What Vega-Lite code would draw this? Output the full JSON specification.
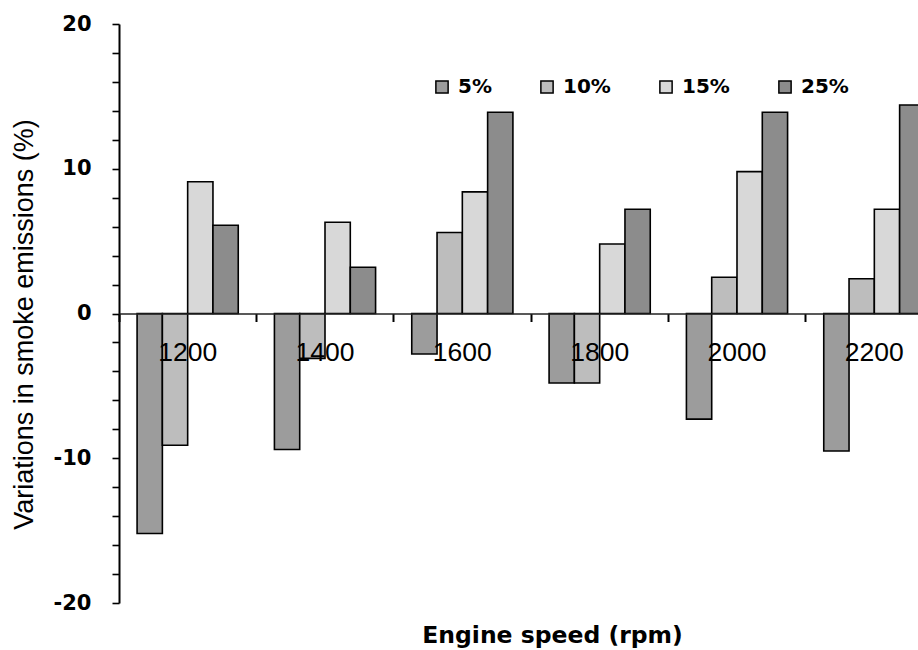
{
  "$schema": "https://vega.github.io/schema/vega-lite/v6.json",
  "autosize": "none",
  "width": 799,
  "height": 579,
  "padding": {"left": 119, "top": 24, "right": 0, "bottom": 47},
  "background": "white",
  "config": {
    "view": {"stroke": null},
    "axis": {"grid": false}
  },
  "data": {
    "values": [
      {"speed": "1200", "load": "5%", "value": -15.2},
      {"speed": "1200", "load": "10%", "value": -9.1},
      {"speed": "1200", "load": "15%", "value": 9.1},
      {"speed": "1200", "load": "25%", "value": 6.1},
      {"speed": "1400", "load": "5%", "value": -9.4},
      {"speed": "1400", "load": "10%", "value": -3.1},
      {"speed": "1400", "load": "15%", "value": 6.3},
      {"speed": "1400", "load": "25%", "value": 3.2},
      {"speed": "1600", "load": "5%", "value": -2.8},
      {"speed": "1600", "load": "10%", "value": 5.6},
      {"speed": "1600", "load": "15%", "value": 8.4},
      {"speed": "1600", "load": "25%", "value": 13.9},
      {"speed": "1800", "load": "5%", "value": -4.8},
      {"speed": "1800", "load": "10%", "value": -4.8},
      {"speed": "1800", "load": "15%", "value": 4.8},
      {"speed": "1800", "load": "25%", "value": 7.2},
      {"speed": "2000", "load": "5%", "value": -7.3},
      {"speed": "2000", "load": "10%", "value": 2.5},
      {"speed": "2000", "load": "15%", "value": 9.8},
      {"speed": "2000", "load": "25%", "value": 13.9},
      {"speed": "2200", "load": "5%", "value": -9.5},
      {"speed": "2200", "load": "10%", "value": 2.4},
      {"speed": "2200", "load": "15%", "value": 7.2},
      {"speed": "2200", "load": "25%", "value": 14.4}
    ]
  },
  "mark": {"type": "bar", "stroke": "black", "strokeWidth": 1.6, "clip": true, "fillOpacity": 1},
  "encoding": {
    "x": {
      "field": "speed",
      "type": "nominal",
      "sort": ["1200", "1400", "1600", "1800", "2000", "2200"],
      "scale": {"range": [0, 824], "paddingInner": 0, "paddingOuter": 0},
      "axis": {
        "orient": "bottom",
        "offset": -289.5,
        "zindex": 1,
        "bandPosition": 0,
        "labelDx": 68.65,
        "labelAngle": 0,
        "labelAlign": "center",
        "labelBaseline": "top",
        "labelPadding": 18,
        "labelFont": "Liberation Sans",
        "labelFontSize": 26.5,
        "labelColor": "black",
        "labelOverlap": false,
        "labelBound": false,
        "labelFlush": false,
        "domainColor": "#222222",
        "domainWidth": 1.5,
        "tickColor": "black",
        "tickWidth": 2,
        "tickSize": 8,
        "title": "Engine speed (rpm)",
        "titleFont": "DejaVu Sans",
        "titleFontWeight": "bold",
        "titleFontSize": 23.5,
        "titleColor": "black",
        "titleX": 433,
        "titleY": 329,
        "titleAlign": "center",
        "titleBaseline": "alphabetic"
      }
    },
    "xOffset": {
      "field": "load",
      "type": "nominal",
      "sort": ["5%", "10%", "15%", "25%"],
      "scale": {"paddingInner": 0, "paddingOuter": 0.715}
    },
    "y": {
      "field": "value",
      "type": "quantitative",
      "scale": {"domain": [-20, 20], "nice": false, "zero": false},
      "axis": {
        "values": [-20, -18, -16, -14, -12, -10, -8, -6, -4, -2, 0, 2, 4, 6, 8, 10, 12, 14, 16, 18, 20],
        "labelExpr": "datum.value % 10 === 0 ? '' + datum.value : ''",
        "labelFont": "DejaVu Sans",
        "labelFontWeight": "bold",
        "labelFontSize": 21,
        "labelColor": "black",
        "labelPadding": 21,
        "labelBaseline": "middle",
        "labelOverlap": false,
        "labelBound": false,
        "labelFlush": false,
        "domainColor": "black",
        "domainWidth": 2,
        "tickColor": "black",
        "tickWidth": 1.6,
        "tickSize": 7,
        "title": "Variations in smoke emissions (%)",
        "titleFont": "Liberation Sans",
        "titleFontWeight": "normal",
        "titleFontSize": 27,
        "titleColor": "black",
        "titleAngle": -90,
        "titleX": -95,
        "titleY": 300,
        "titleAlign": "center",
        "titleBaseline": "middle"
      }
    },
    "fill": {
      "field": "load",
      "type": "nominal",
      "sort": ["5%", "10%", "15%", "25%"],
      "scale": {"domain": ["5%", "10%", "15%", "25%"], "range": ["#9c9c9c", "#bdbdbd", "#d8d8d8", "#8c8c8c"]},
      "legend": {
        "title": null,
        "orient": "none",
        "legendX": 313,
        "legendY": 53,
        "direction": "horizontal",
        "columns": 4,
        "gridAlign": "each",
        "columnPadding": 45,
        "padding": 0,
        "symbolType": "square",
        "symbolSize": 150,
        "symbolStrokeColor": "black",
        "symbolStrokeWidth": 1.5,
        "symbolOpacity": 1,
        "labelFont": "DejaVu Sans",
        "labelFontWeight": "bold",
        "labelFontSize": 20,
        "labelColor": "black",
        "labelOffset": 6,
        "labelLimit": 200
      }
    }
  }
}
